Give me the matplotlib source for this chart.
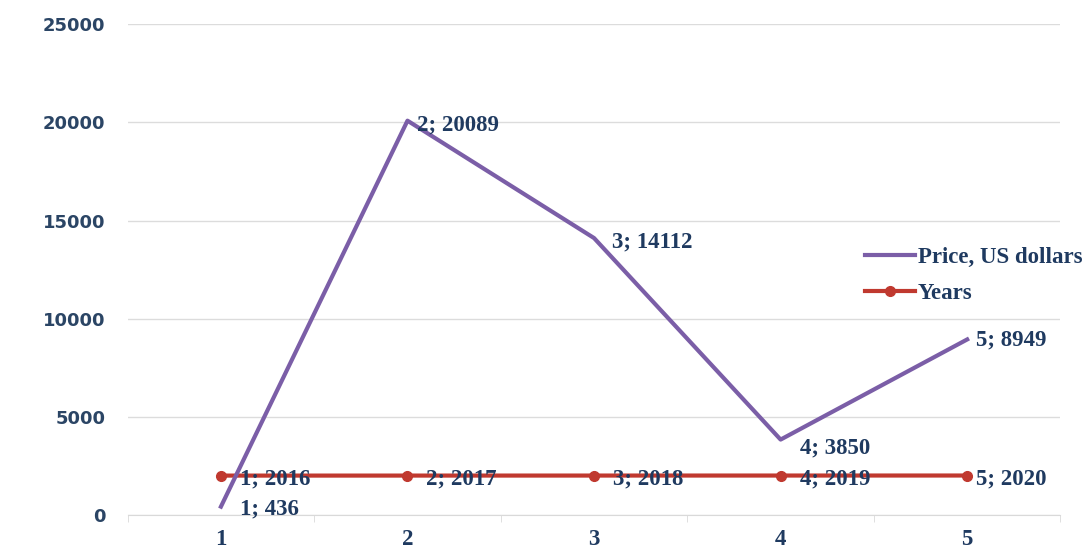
import matplotlib.pyplot as plt

# data
categories = [1, 2, 3, 4, 5]
price = [436, 20089, 14112, 3850, 8949]
years = [2016, 2017, 2018, 2019, 2020]
price_offsets = [(19, -2), (10, -4), (18, -4), (19, -8), (9, -1)]
years_offsets = [(19, -3), (19, -3), (19, -3), (19, -3), (9, -3)]

txt_col = '#1f3a60'
serif = ['Liberation Serif', 'DejaVu Serif']

fig = plt.figure(figsize=(10.91, 5.51), dpi=100)
ax = fig.add_axes([0.117, 0.065, 0.855, 0.891])

ax.plot(categories, price, color='#7b5ea7', lw=3, label='Price, US dollars', zorder=4)
ax.plot(categories, years, color='#c0392f', lw=3, marker='o', ms=7,
        label='Years', zorder=3)

for x, y, off in zip(categories, price, price_offsets):
    ax.annotate(f'{x}; {y}', (x, y), xytext=off, textcoords='offset pixels',
                ha='left', va='center', fontsize=16.5, fontweight='bold',
                family=serif, color=txt_col, zorder=6)
for x, y, off in zip(categories, years, years_offsets):
    ax.annotate(f'{x}; {y}', (x, y), xytext=off, textcoords='offset pixels',
                ha='left', va='center', fontsize=16.5, fontweight='bold',
                family=serif, color=txt_col, zorder=6)

ax.set_xlim(0.5, 5.5)
ax.set_ylim(0, 25000)
ax.set_yticks(range(0, 25001, 5000))
ax.set_xticks(categories)
ax.set_xticks([0.5, 1.5, 2.5, 3.5, 4.5, 5.5], minor=True)
ax.tick_params(axis='x', which='major', length=0, pad=10)
ax.tick_params(axis='x', which='minor', length=5, color='#d9d9d9')
ax.tick_params(axis='y', length=0, pad=16)
for lab in ax.get_xticklabels():
    lab.set_family(serif)
    lab.set_fontsize(16.5)
    lab.set_fontweight('bold')
    lab.set_color(txt_col)
for lab in ax.get_yticklabels():
    lab.set_fontsize(13)
    lab.set_fontweight('bold')
    lab.set_color('#2b4565')

ax.grid(axis='y', color='#dcdcdc', lw=1)
ax.set_axisbelow(True)
for s in ['top', 'right', 'left']:
    ax.spines[s].set_visible(False)
ax.spines['bottom'].set_color('#d9d9d9')

leg = fig.legend(loc='upper left', bbox_to_anchor=(0.774, 0.589), frameon=False,
                 handlelength=2.2, handletextpad=0.1, labelspacing=0.65,
                 prop={'family': serif, 'size': 16.5, 'weight': 'bold'})
for t in leg.get_texts():
    t.set_color(txt_col)

plt.savefig('out.png', dpi=100)
